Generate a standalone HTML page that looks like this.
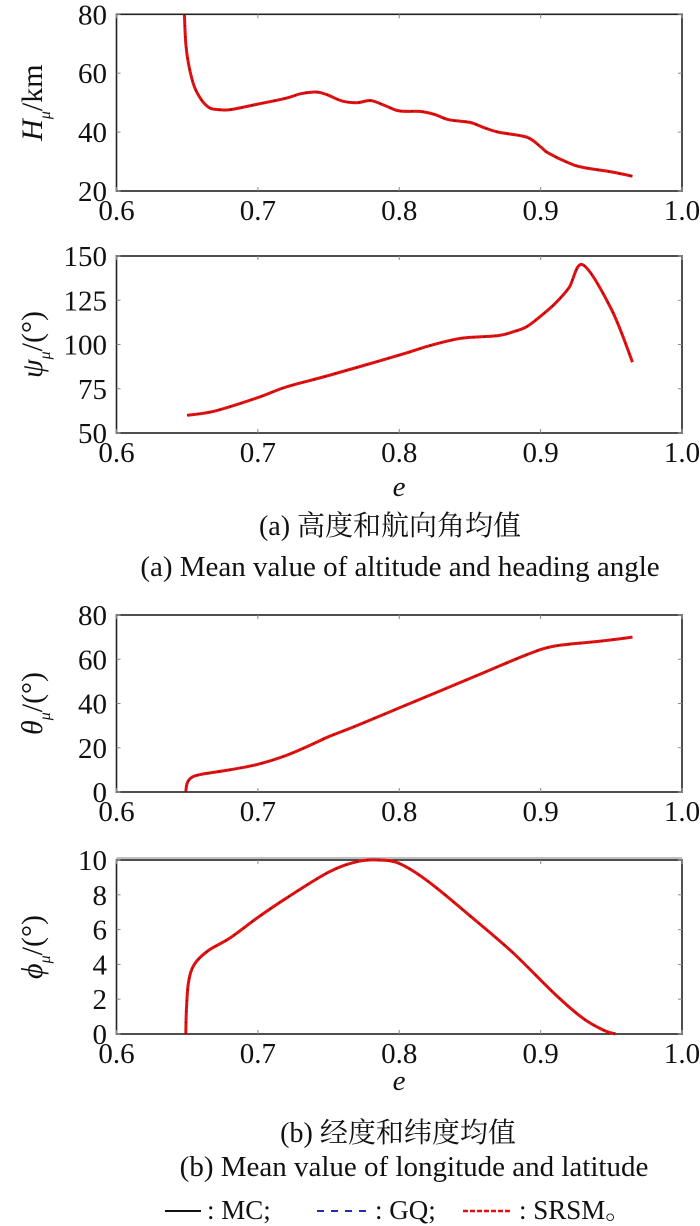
<!DOCTYPE html>
<html><head><meta charset="utf-8"><style>
html,body{margin:0;padding:0;background:#fff;}
svg{display:block;}
text{font-family:"Liberation Serif","Noto Serif CJK SC",serif;fill:#111;}
</style></head><body>
<svg id="s" width="700" height="1226" viewBox="0 0 700 1226" xmlns="http://www.w3.org/2000/svg"></svg>
<script>
const S=document.getElementById('s');let h='';
const L=116.5,R=682;
function X(e){return L+(e-0.6)/0.4*(R-L);}
function smooth(P){let d='M'+P[0][0].toFixed(1)+' '+P[0][1].toFixed(1);
  for(let i=0;i<P.length-1;i++){const p0=P[Math.max(i-1,0)],p1=P[i],p2=P[i+1],p3=P[Math.min(i+2,P.length-1)];
    const c1=[p1[0]+(p2[0]-p0[0])/6,p1[1]+(p2[1]-p0[1])/6],c2=[p2[0]-(p3[0]-p1[0])/6,p2[1]-(p3[1]-p1[1])/6];
    d+=` C${c1[0].toFixed(1)} ${c1[1].toFixed(1)} ${c2[0].toFixed(1)} ${c2[1].toFixed(1)} ${p2[0].toFixed(1)} ${p2[1].toFixed(1)}`;}
  return d;}
function plot(top,bot,ymin,ymax,ticks,pts,ylab){
  const Y=v=>bot-(v-ymin)/(ymax-ymin)*(bot-top);
  h+=`<rect x="${L}" y="${top}" width="${R-L}" height="${bot-top}" fill="none" stroke="#222" stroke-width="1.6"/>`;
  [0.6,0.7,0.8,0.9,1.0].forEach(e=>{const x=X(e);
    h+=`<line x1="${x}" y1="${bot}" x2="${x}" y2="${bot-4}" stroke="#888"/><line x1="${x}" y1="${top}" x2="${x}" y2="${top+4}" stroke="#888"/>`;
    h+=`<text x="${x}" y="${bot+29}" font-size="29" text-anchor="middle">${e.toFixed(1)}</text>`;});
  ticks.forEach(v=>{const y=Y(v);
    h+=`<line x1="${L}" y1="${y}" x2="${L+4}" y2="${y}" stroke="#888"/><line x1="${R}" y1="${y}" x2="${R-4}" y2="${y}" stroke="#888"/>`;
    h+=`<text x="107" y="${y+10}" font-size="29" text-anchor="end">${v}</text>`;});
  const P=pts.map(p=>[X(p[0]),Y(p[1])]);
  let d=smooth(P);
  h+=`<path d="${d}" fill="none" stroke="#e01010" stroke-width="3" stroke-linejoin="round"/>`;
  h+=`<path d="${d}" fill="none" stroke="#111" stroke-width="1" stroke-dasharray="1 10"/>`;
  const cy=(top+bot)/2;
  h+=`<text transform="translate(42 ${cy}) rotate(-90)" font-size="30" text-anchor="middle">${ylab}</text>`;
}
plot(14.3,191,20,80,[20,40,60,80],[[0.648,80],[0.649,70],[0.651,63],[0.655,55.5],[0.66,51],[0.665,48.5],[0.67,47.7],[0.68,47.6],[0.69,48.5],[0.7,49.5],[0.72,51.5],[0.73,53],[0.74,53.6],[0.745,53.3],[0.75,52.5],[0.76,50.5],[0.77,50],[0.78,50.7],[0.79,49],[0.80,47.2],[0.815,47],[0.825,46],[0.835,44.2],[0.85,43.3],[0.86,41.5],[0.87,40],[0.89,38.3],[0.9,35],[0.905,33],[0.92,29.5],[0.93,28],[0.95,26.5],[0.965,25]],
 '<tspan font-style="italic">H</tspan><tspan font-size="16" font-style="italic" dy="8">μ</tspan><tspan dy="-8">/km</tspan>');
plot(256,433,50,150,[50,75,100,125,150],[[0.65,60],[0.67,62.5],[0.7,70],[0.72,76],[0.75,82.5],[0.8,94],[0.82,99],[0.84,103],[0.85,104],[0.87,105],[0.88,107],[0.89,110],[0.9,116],[0.91,123],[0.92,132],[0.93,145],[0.95,120],[0.965,90]],
 '<tspan font-style="italic">ψ</tspan><tspan font-size="16" font-style="italic" dy="8">μ</tspan><tspan dy="-8">/(°)</tspan>');
plot(615,792,0,80,[0,20,40,60,80],[[0.649,0],[0.65,4],[0.653,6.5],[0.66,8],[0.68,10],[0.7,12.5],[0.72,16.5],[0.74,22],[0.75,25],[0.77,30],[0.8,38],[0.83,46],[0.86,54],[0.89,62],[0.91,66],[0.94,68],[0.965,70]],
 '<tspan font-style="italic">θ</tspan><tspan font-size="16" font-style="italic" dy="8">μ</tspan><tspan dy="-8">/(°)</tspan>');
h+=`<line x1="${L}" y1="858" x2="${R}" y2="858" stroke="#aaa" stroke-width="1.5"/>`;
plot(860,1034,0,10,[0,2,4,6,8,10],[[0.649,0],[0.6495,1.5],[0.651,3],[0.655,4],[0.665,4.8],[0.68,5.5],[0.7,6.7],[0.72,7.8],[0.75,9.3],[0.77,9.9],[0.785,10],[0.8,9.8],[0.82,8.8],[0.85,6.8],[0.88,4.7],[0.91,2.3],[0.93,0.9],[0.945,0.2],[0.953,0]],
 '<tspan font-style="italic">ϕ</tspan><tspan font-size="16" font-style="italic" dy="8">μ</tspan><tspan dy="-8">/(°)</tspan>');
h+=`<text x="399" y="496" font-size="29" font-style="italic" text-anchor="middle">e</text>`;
h+=`<text x="399" y="1090" font-size="29" font-style="italic" text-anchor="middle">e</text>`;
h+=`<text x="390" y="535" font-size="28" text-anchor="middle">(a) 高度和航向角均值</text>`;
h+=`<text x="400" y="576" font-size="29" text-anchor="middle">(a) Mean value of altitude and heading angle</text>`;
h+=`<text x="398" y="1142" font-size="28" text-anchor="middle">(b) 经度和纬度均值</text>`;
h+=`<text x="414" y="1176" font-size="29" text-anchor="middle">(b) Mean value of longitude and latitude</text>`;
h+=`<line x1="165" y1="1211" x2="201" y2="1211" stroke="#111" stroke-width="2"/>`;
h+=`<text x="207" y="1219" font-size="27">: MC;</text>`;
h+=`<line x1="317" y1="1211" x2="370" y2="1211" stroke="#2030b0" stroke-width="2" stroke-dasharray="7 7"/>`;
h+=`<text x="375" y="1219" font-size="27">: GQ;</text>`;
h+=`<line x1="463" y1="1211" x2="511" y2="1211" stroke="#e01010" stroke-width="2.5" stroke-dasharray="5 2"/>`;
h+=`<text x="519" y="1219" font-size="27">: SRSM。</text>`;
S.innerHTML=h;
</script>
</body></html>
